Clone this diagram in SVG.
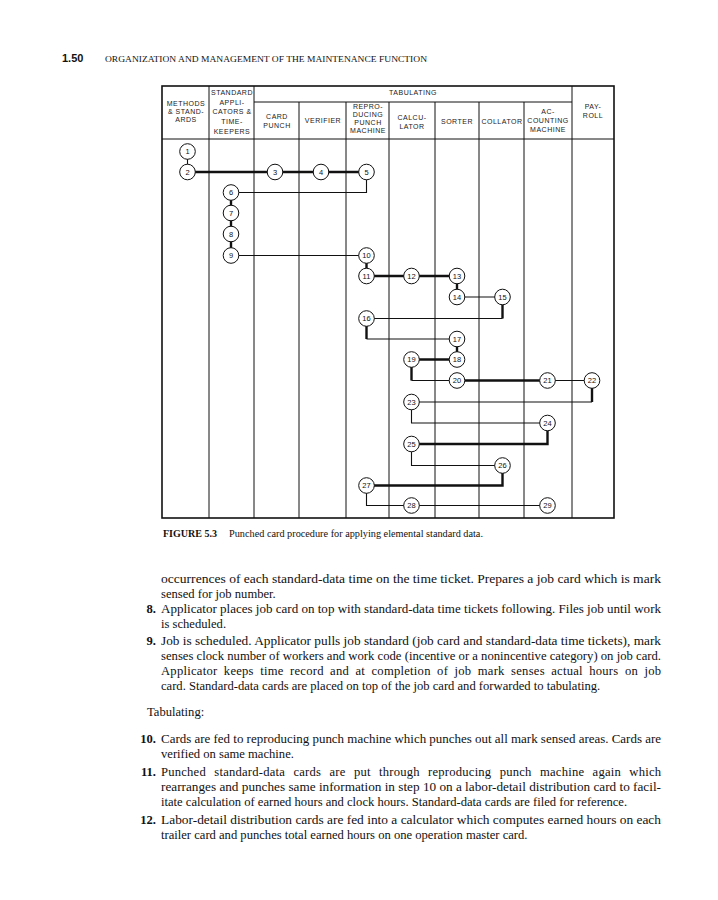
<svg xmlns="http://www.w3.org/2000/svg" width="718" height="900" viewBox="0 0 718 900">
<style>
.hd{font-family:"Liberation Sans",Arial,sans-serif;font-size:7px;fill:#222;text-anchor:middle;letter-spacing:0.5px}
.nd{font-family:"Liberation Sans",Arial,sans-serif;font-size:7.5px;fill:#111;text-anchor:middle}
.grid{stroke:#111;stroke-width:1;fill:none}
.border{stroke:#111;stroke-width:1.6;fill:none}
.thin{stroke:#111;stroke-width:1.1;fill:none}
.thick{stroke:#111;stroke-width:2.4;fill:none}
.circ{fill:#fff;stroke:#111;stroke-width:1}
.body{font-family:"Liberation Serif","Times New Roman",serif;font-size:12.6px;fill:#111}
.num{font-family:"Liberation Serif","Times New Roman",serif;font-size:12.6px;font-weight:bold;fill:#111;text-anchor:end}
</style>
<rect width="718" height="900" fill="#fff"/>
<text x="62" y="62" font-family="Liberation Sans,Arial,sans-serif" font-size="11" font-weight="bold" fill="#111">1.50</text>
<text x="105" y="62" font-family="Liberation Serif,Times New Roman,serif" font-size="8.5" fill="#111" textLength="322" lengthAdjust="spacingAndGlyphs">ORGANIZATION AND MANAGEMENT OF THE MAINTENANCE FUNCTION</text>

<g id="chart-grid">
<rect class="border" x="162" y="86" width="452" height="432"/>
<line class="grid" x1="162" y1="139" x2="614" y2="139"/>
<line class="grid" x1="254" y1="102" x2="572" y2="102"/>
<line class="grid" x1="209" y1="86" x2="209" y2="518"/>
<line class="grid" x1="254" y1="86" x2="254" y2="518"/>
<line class="grid" x1="299" y1="102" x2="299" y2="518"/>
<line class="grid" x1="346" y1="102" x2="346" y2="518"/>
<line class="grid" x1="389" y1="102" x2="389" y2="518"/>
<line class="grid" x1="435" y1="102" x2="435" y2="518"/>
<line class="grid" x1="479" y1="102" x2="479" y2="518"/>
<line class="grid" x1="524" y1="102" x2="524" y2="518"/>
<line class="grid" x1="572" y1="86" x2="572" y2="518"/>
</g>
<g id="headers">
<text class="hd" x="186" y="106">METHODS</text>
<text class="hd" x="186" y="114">&amp; STAND-</text>
<text class="hd" x="186" y="122">ARDS</text>
<text class="hd" x="232" y="95">STANDARD</text>
<text class="hd" x="232" y="105">APPLI-</text>
<text class="hd" x="232" y="114">CATORS &amp;</text>
<text class="hd" x="232" y="124">TIME-</text>
<text class="hd" x="232" y="134">KEEPERS</text>
<text class="hd" x="413" y="95">TABULATING</text>
<text class="hd" x="277" y="119">CARD</text>
<text class="hd" x="277" y="128">PUNCH</text>
<text class="hd" x="323" y="123">VERIFIER</text>
<text class="hd" x="368" y="109">REPRO-</text>
<text class="hd" x="368" y="117">DUCING</text>
<text class="hd" x="368" y="125">PUNCH</text>
<text class="hd" x="368" y="133">MACHINE</text>
<text class="hd" x="412" y="120">CALCU-</text>
<text class="hd" x="412" y="129">LATOR</text>
<text class="hd" x="457" y="124">SORTER</text>
<text class="hd" x="502" y="124">COLLATOR</text>
<text class="hd" x="548" y="114">AC-</text>
<text class="hd" x="548" y="123">COUNTING</text>
<text class="hd" x="548" y="132">MACHINE</text>
<text class="hd" x="593" y="109">PAY-</text>
<text class="hd" x="593" y="118">ROLL</text>
</g>

<g id="connectors">
<line class="thin" x1="187.5" y1="151.5" x2="187.5" y2="172"/>
<line class="thick" x1="187.5" y1="172" x2="366.5" y2="172"/>
<path class="thin" d="M366.5 172 V192.5 H231"/>
<line class="thick" x1="231" y1="192.5" x2="231" y2="255.5"/>
<line class="thin" x1="231" y1="255.5" x2="366.5" y2="255.5"/>
<line class="thick" x1="366.5" y1="255.5" x2="366.5" y2="276"/>
<line class="thick" x1="366.5" y1="276" x2="457" y2="276"/>
<line class="thick" x1="457" y1="276" x2="457" y2="297"/>
<line class="thin" x1="457" y1="297" x2="502.5" y2="297"/>
<path class="thick" d="M502.5 297 V318.5"/>
<line class="thin" x1="502.5" y1="318.5" x2="366.5" y2="318.5"/>
<path class="thick" d="M366.5 318.5 V339"/>
<line class="thin" x1="366.5" y1="339" x2="457" y2="339"/>
<line class="thick" x1="457" y1="339" x2="457" y2="359.5"/>
<line class="thick" x1="411.5" y1="359.5" x2="457" y2="359.5"/>
<path class="thick" d="M411.5 359.5 V380.5"/>
<line class="thin" x1="411.5" y1="380.5" x2="457" y2="380.5"/>
<line class="thick" x1="457" y1="380.5" x2="547.5" y2="380.5"/>
<line class="thin" x1="547.5" y1="380.5" x2="592" y2="380.5"/>
<path class="thick" d="M592 380.5 V402"/>
<line class="thin" x1="592" y1="402" x2="411.5" y2="402"/>
<path class="thin" d="M411.5 402 V423 H547.5"/>
<path class="thick" d="M547.5 423 V444 H411.5"/>
<path class="thin" d="M411.5 444 V465.5 H502.5"/>
<path class="thick" d="M502.5 465.5 V485.5 H366.5"/>
<path class="thin" d="M366.5 485.5 V505.5 H547.5"/>
</g>

<g id="n1"><circle class="circ" cx="187.5" cy="151.5" r="7.8"/><text class="nd" x="187.5" y="154.2">1</text></g>
<g id="n2"><circle class="circ" cx="187.5" cy="172" r="7.8"/><text class="nd" x="187.5" y="174.7">2</text></g>
<g id="n3"><circle class="circ" cx="275" cy="172" r="7.8"/><text class="nd" x="275" y="174.7">3</text></g>
<g id="n4"><circle class="circ" cx="321" cy="172" r="7.8"/><text class="nd" x="321" y="174.7">4</text></g>
<g id="n5"><circle class="circ" cx="366.5" cy="172" r="7.8"/><text class="nd" x="366.5" y="174.7">5</text></g>
<g id="n6"><circle class="circ" cx="231" cy="192.5" r="7.8"/><text class="nd" x="231" y="195.2">6</text></g>
<g id="n7"><circle class="circ" cx="231" cy="213" r="7.8"/><text class="nd" x="231" y="215.7">7</text></g>
<g id="n8"><circle class="circ" cx="231" cy="234" r="7.8"/><text class="nd" x="231" y="236.7">8</text></g>
<g id="n9"><circle class="circ" cx="231" cy="255.5" r="7.8"/><text class="nd" x="231" y="258.2">9</text></g>
<g id="n10"><circle class="circ" cx="366.5" cy="255.5" r="7.8"/><text class="nd" x="366.5" y="258.2">10</text></g>
<g id="n11"><circle class="circ" cx="366.5" cy="276" r="7.8"/><text class="nd" x="366.5" y="278.7">11</text></g>
<g id="n12"><circle class="circ" cx="411.5" cy="276" r="7.8"/><text class="nd" x="411.5" y="278.7">12</text></g>
<g id="n13"><circle class="circ" cx="457" cy="276" r="7.8"/><text class="nd" x="457" y="278.7">13</text></g>
<g id="n14"><circle class="circ" cx="457" cy="297" r="7.8"/><text class="nd" x="457" y="299.7">14</text></g>
<g id="n15"><circle class="circ" cx="502.5" cy="297" r="7.8"/><text class="nd" x="502.5" y="299.7">15</text></g>
<g id="n16"><circle class="circ" cx="366.5" cy="318.5" r="7.8"/><text class="nd" x="366.5" y="321.2">16</text></g>
<g id="n17"><circle class="circ" cx="457" cy="339" r="7.8"/><text class="nd" x="457" y="341.7">17</text></g>
<g id="n18"><circle class="circ" cx="457" cy="359.5" r="7.8"/><text class="nd" x="457" y="362.2">18</text></g>
<g id="n19"><circle class="circ" cx="411.5" cy="359.5" r="7.8"/><text class="nd" x="411.5" y="362.2">19</text></g>
<g id="n20"><circle class="circ" cx="457" cy="380.5" r="7.8"/><text class="nd" x="457" y="383.2">20</text></g>
<g id="n21"><circle class="circ" cx="547.5" cy="380.5" r="7.8"/><text class="nd" x="547.5" y="383.2">21</text></g>
<g id="n22"><circle class="circ" cx="592" cy="380.5" r="7.8"/><text class="nd" x="592" y="383.2">22</text></g>
<g id="n23"><circle class="circ" cx="411.5" cy="402" r="7.8"/><text class="nd" x="411.5" y="404.7">23</text></g>
<g id="n24"><circle class="circ" cx="547.5" cy="423" r="7.8"/><text class="nd" x="547.5" y="425.7">24</text></g>
<g id="n25"><circle class="circ" cx="411.5" cy="444" r="7.8"/><text class="nd" x="411.5" y="446.7">25</text></g>
<g id="n26"><circle class="circ" cx="502.5" cy="465.5" r="7.8"/><text class="nd" x="502.5" y="468.2">26</text></g>
<g id="n27"><circle class="circ" cx="366.5" cy="485.5" r="7.8"/><text class="nd" x="366.5" y="488.2">27</text></g>
<g id="n28"><circle class="circ" cx="411.5" cy="505.5" r="7.8"/><text class="nd" x="411.5" y="508.2">28</text></g>
<g id="n29"><circle class="circ" cx="547.5" cy="505.5" r="7.8"/><text class="nd" x="547.5" y="508.2">29</text></g>

<g id="caption">
<text x="163" y="537" font-family="Liberation Serif,Times New Roman,serif" font-size="10" font-weight="bold" fill="#111">FIGURE 5.3</text>
<text x="229" y="537" font-family="Liberation Serif,Times New Roman,serif" font-size="10" fill="#111" textLength="254" lengthAdjust="spacingAndGlyphs">Punched card procedure for applying elemental standard data.</text>
</g>

<g id="body-text">
<text class="body" x="161" y="583" textLength="500" lengthAdjust="spacingAndGlyphs">occurrences of each standard-data time on the time ticket. Prepares a job card which is mark</text>
<text class="body" x="161" y="598">sensed for job number.</text>
<text class="num" x="156" y="613">8.</text>
<text class="body" x="161" y="613" textLength="500" lengthAdjust="spacingAndGlyphs">Applicator places job card on top with standard-data time tickets following. Files job until work</text>
<text class="body" x="161" y="628">is scheduled.</text>
<text class="num" x="156" y="645">9.</text>
<text class="body" x="161" y="645" textLength="500" lengthAdjust="spacingAndGlyphs">Job is scheduled. Applicator pulls job standard (job card and standard-data time tickets), mark</text>
<text class="body" x="161" y="660" textLength="500" lengthAdjust="spacingAndGlyphs">senses clock number of workers and work code (incentive or a nonincentive category) on job card.</text>
<text class="body" x="161" y="675" textLength="500" lengthAdjust="spacing" word-spacing="3">Applicator keeps time record and at completion of job mark senses actual hours on job</text>
<text class="body" x="161" y="690">card. Standard-data cards are placed on top of the job card and forwarded to tabulating.</text>
<text class="body" x="147" y="716">Tabulating:</text>
<text class="num" x="156" y="743">10.</text>
<text class="body" x="161" y="743" textLength="500" lengthAdjust="spacingAndGlyphs">Cards are fed to reproducing punch machine which punches out all mark sensed areas. Cards are</text>
<text class="body" x="161" y="758">verified on same machine.</text>
<text class="num" x="156" y="776">11.</text>
<text class="body" x="161" y="776" textLength="500" lengthAdjust="spacing" word-spacing="5">Punched standard-data cards are put through reproducing punch machine again which</text>
<text class="body" x="161" y="791" textLength="500" lengthAdjust="spacingAndGlyphs">rearranges and punches same information in step 10 on a labor-detail distribution card to facil-</text>
<text class="body" x="161" y="806">itate calculation of earned hours and clock hours. Standard-data cards are filed for reference.</text>
<text class="num" x="156" y="824">12.</text>
<text class="body" x="161" y="824" textLength="500" lengthAdjust="spacingAndGlyphs">Labor-detail distribution cards are fed into a calculator which computes earned hours on each</text>
<text class="body" x="161" y="839">trailer card and punches total earned hours on one operation master card.</text>
</g>
</svg>
